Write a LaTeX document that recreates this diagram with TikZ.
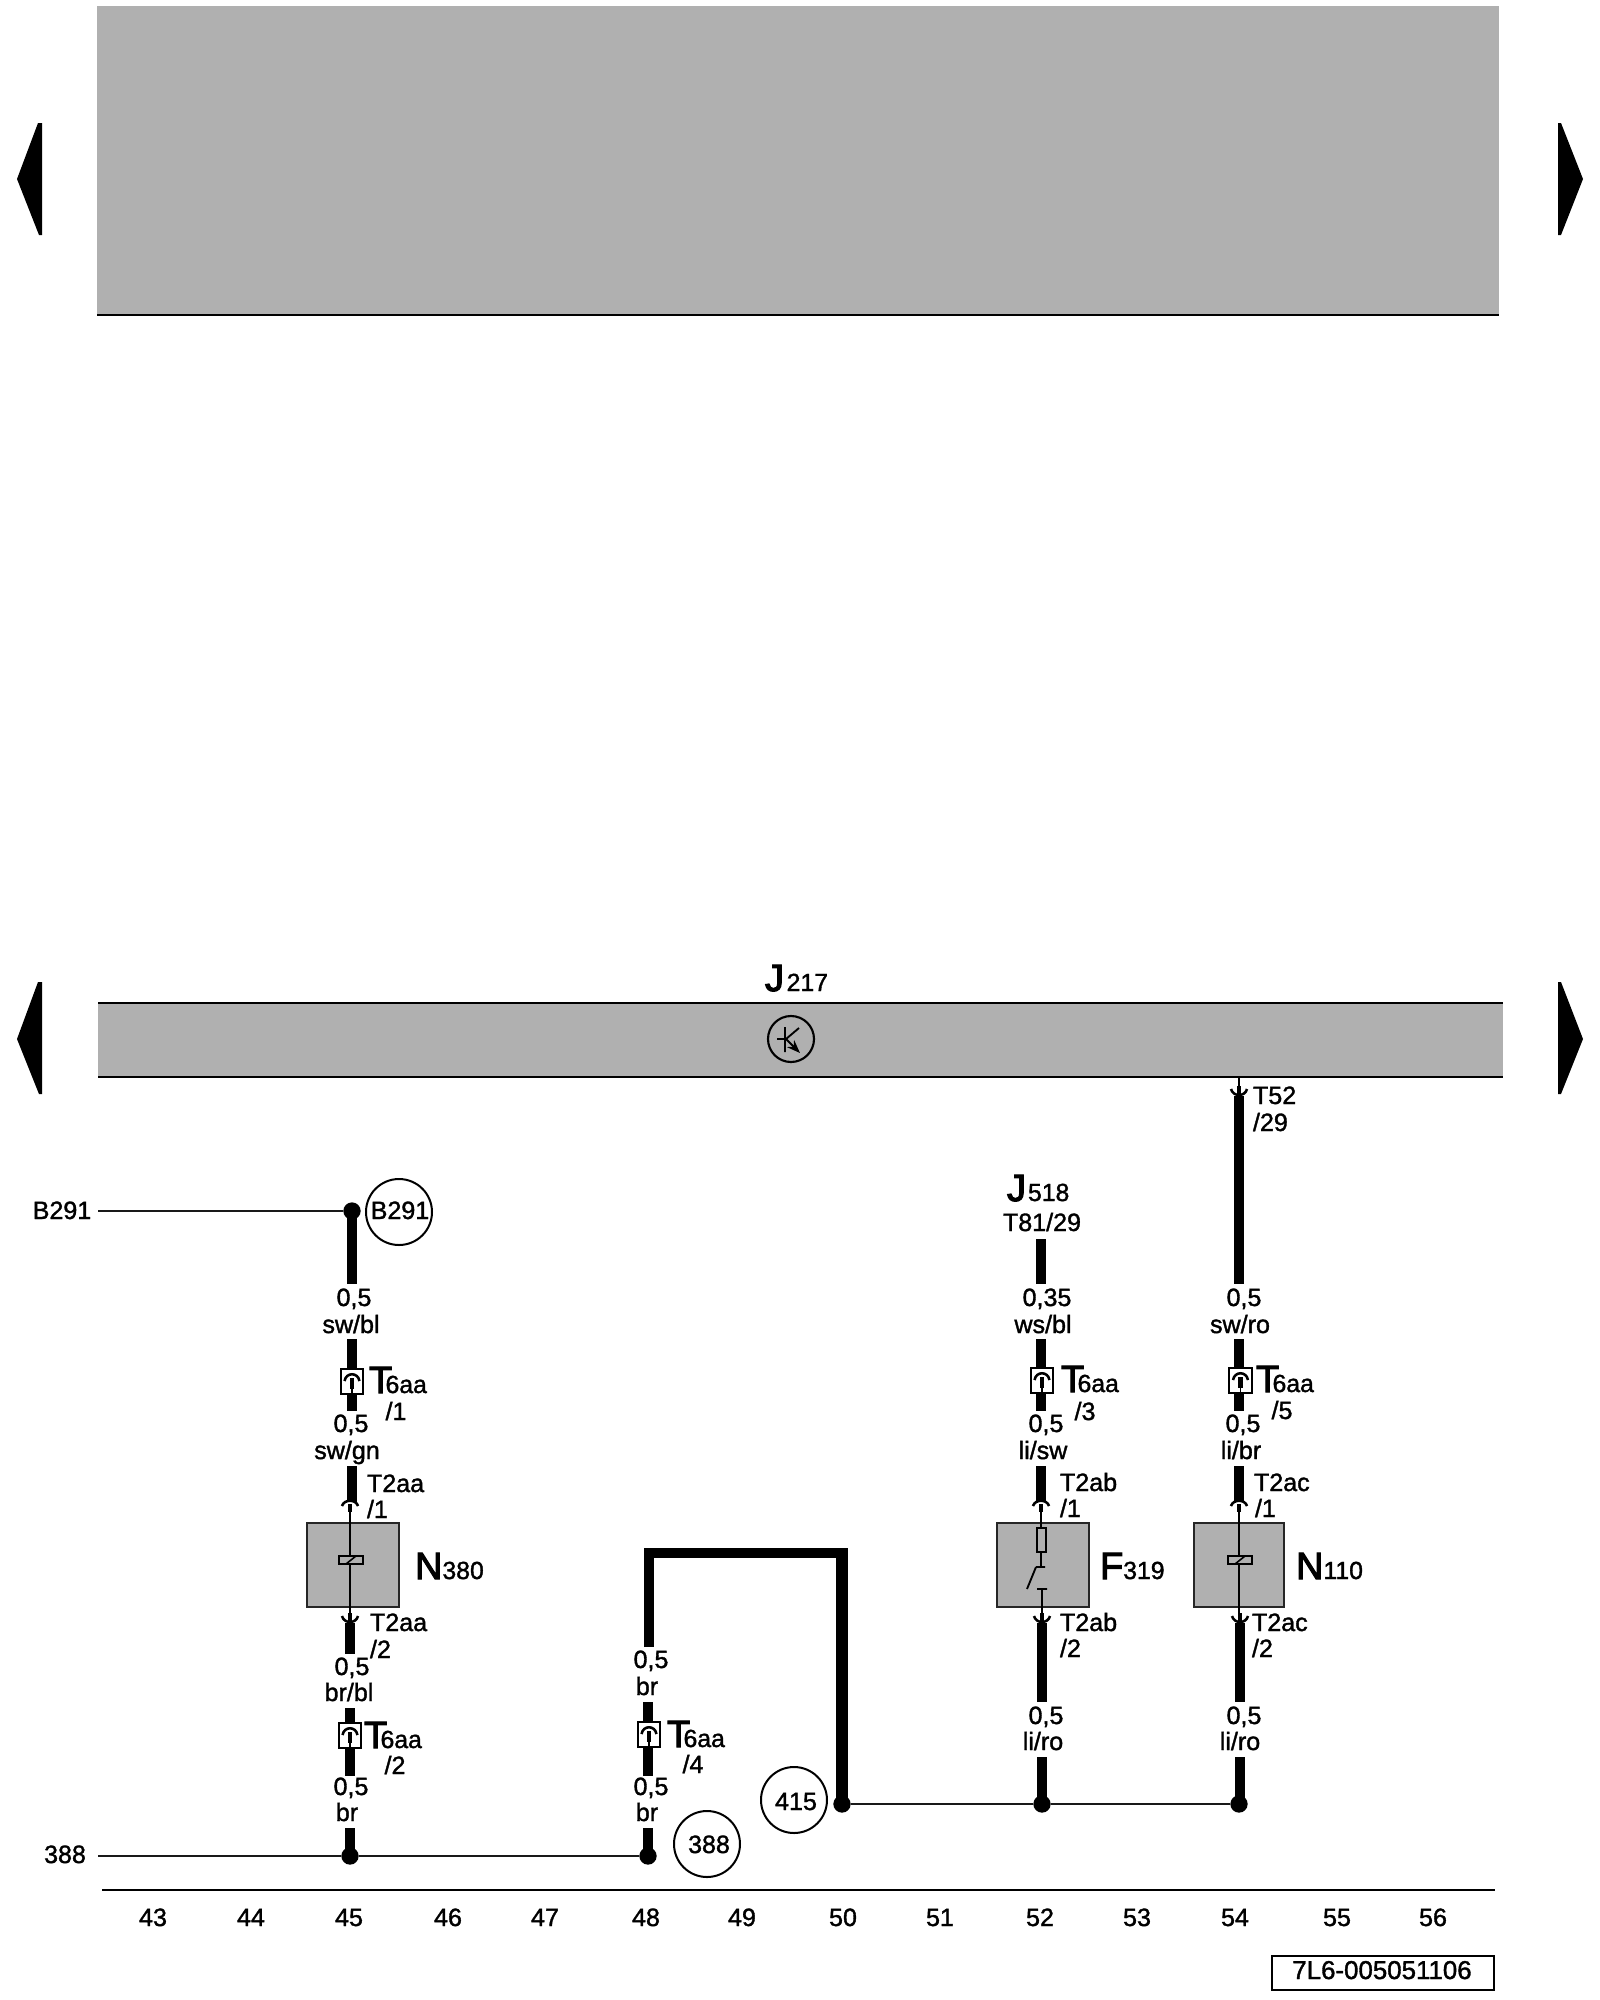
\documentclass[tikz,border=0pt]{standalone}
\usepackage{fontspec}
\setmainfont{Liberation Sans}
\newfontfamily\labf[FakeBold=1.4]{Liberation Sans}
\newfontfamily\bigf[FakeBold=3.0]{Liberation Sans}
\usetikzlibrary{arrows.meta}
\definecolor{bandgray}{HTML}{B0B0B0}
\tikzset{
 px/.style={x=0.75pt,y=-0.75pt},
 wirestyle/.style={line width=8pt,line cap=butt},
 thinwire/.style={line width=1.6pt,black!90},
 fork/.style={line width=1.9pt},
 pin/.style={line width=3.6pt},
 dotnode/.style={circle,fill=black,inner sep=0pt,minimum size=13pt},
 compbox/.style={draw=black!85,fill=bandgray,line width=1.6pt,inner sep=0pt},
 plugbox/.style={draw,fill=white,line width=1.5pt,inner sep=0pt,minimum width=17pt,minimum height=18.5pt},
 circlab/.style={circle,draw,line width=1.5pt,inner sep=0pt,minimum size=49.5pt},
 txt/.style={inner sep=0pt,outer sep=0pt,font=\labf\fontsize{18.8pt}{20pt}\selectfont,anchor=base},
 txtl/.style={txt,anchor=base west},
}
% wire: name, x, y1, y2
\newcommand{\wirerun}[4]{\coordinate (#1a) at (#2,#3);\coordinate (#1b) at (#2,#4);\draw[wirestyle] (#1a) -- (#1b);}
% centred label: name, x, y centre, text
\newcommand{\lab}[4]{\node[txt] (#1) at (#2,#3+8) {#4};}
% left aligned label: name, x, y centre, text
\newcommand{\labl}[4]{\node[txtl] (#1) at (#2,#3+8) {#4};}
% big letter + subscript: name,x,baseline,letter,kern,sub
\newcommand{\biglab}[6]{\node[txtl] (#1) at (#2,#3) {\bigf\fontsize{28.5pt}{30pt}\selectfont #4\hspace{#5}\labf\fontsize{18.6pt}{20pt}\selectfont #6};}
% plug symbol: name, cx, ytop
\newcommand{\plug}[3]{\node[plugbox] (#1) at (#2,#3+12.5) {};
 \draw[fork] (#2-7.5,#3+12) .. controls (#2-6,#3+3) and (#2+6,#3+3) .. (#2+7.5,#3+12);
 \draw[pin] (#2,#3+9) -- (#2,#3+20);
 \draw[line width=1.3pt] (#2,#3+20) -- (#2,#3+25);}
% upper fork (wire comes from above): x,y of arc top
\newcommand{\forkup}[2]{\draw[fork,white,line width=3pt] (#1,#2+5) -- (#1,#2+2);
 \draw[fork] (#1-8,#2+6) .. controls (#1-6,#2-1) and (#1+6,#2-1) .. (#1+8,#2+6);
 \draw[pin] (#1,#2+4) -- (#1,#2+12);}
% lower fork (wire goes below): x,y of pin start
\newcommand{\forkdn}[2]{\draw[pin] (#1,#2) -- (#1,#2+8);
 \draw[fork] (#1-8,#2+3) .. controls (#1-6,#2+11) and (#1+6,#2+11) .. (#1+8,#2+3);}
\newcommand{\relay}[2]{\draw[line width=1.4pt,fill=bandgray] (#1-12,#2-4) rectangle (#1+12,#2+4);
 \draw[line width=1.2pt] (#1-5,#2+4) -- (#1+5,#2-4);}
\begin{document}
\begin{tikzpicture}[px]
\useasboundingbox (0,0) rectangle (1600,2000);
% top band
\fill[bandgray] (97,6) rectangle (1499,315);
\draw[line width=1.6pt] (97,315) -- (1499,315);
% navigation arrows
\fill (38,123) -- (42,123) -- (42,235) -- (39,235) -- (17,179) -- cycle;
\fill (1558,123) -- (1561,123) -- (1583,179) -- (1561,235) -- (1558,235) -- cycle;
\fill (38,982) -- (42,982) -- (42,1094) -- (39,1094) -- (17,1039) -- cycle;
\fill (1558,982) -- (1561,982) -- (1583,1039) -- (1561,1094) -- (1558,1094) -- cycle;
% J217 band
\fill[bandgray] (98,1003) rectangle (1503,1077);
\draw[line width=1.6pt] (98,1003) -- (1503,1003) (98,1077) -- (1503,1077);
\biglab{jtwo}{765}{991}{J}{2pt}{217}
\node[circle,draw,line width=1.6pt,inner sep=0pt,minimum size=34.5pt] (trans) at (791,1039) {};
\draw[line width=1.4pt] (777,1039) -- (785,1039) (785,1027) -- (785,1052) (786,1039) -- (799,1028);
\draw[line width=1.4pt,-{Stealth[length=10pt,width=7.5pt]}] (786,1039) -- (800,1053);
% horizontal lines
\coordinate (bleft) at (98,1211);
\coordinate (aleft) at (98,1856);
\node[dotnode] (d45t) at (352,1211) {};
\node[dotnode] (d45b) at (350,1856) {};
\node[dotnode] (d48) at (648,1856) {};
\node[dotnode] (d50) at (842,1804) {};
\node[dotnode] (d52) at (1042,1804) {};
\node[dotnode] (d54) at (1239,1804) {};
\draw[thinwire] (bleft) -- (d45t);
\draw[thinwire] (aleft) -- (d45b) -- (d48);
\draw[thinwire] (d50) -- (d52) -- (d54);
\lab{lb}{62}{1211}{B291}
\lab{la}{65}{1855}{388}
\node[circlab] (cb) at (399,1212) {};
\node[txt] (cbt) at (400,1219) {B291};
\node[circlab] (c388) at (707,1844) {};
\node[txt] (c388t) at (709,1853) {388};
\node[circlab] (c415) at (794,1800) {};
\node[txt] (c415t) at (796,1810) {415};
% column 45
\wirerun{a1}{352}{1211}{1284}
\lab{a1l}{354}{1298}{0,5}
\lab{a1m}{351}{1325}{sw/bl}
\wirerun{a2}{352}{1339}{1411}
\plug{pa}{352}{1369}
\biglab{ta}{369}{1393}{T}{-5pt}{6aa}
\lab{ta2}{396}{1412}{/1}
\lab{a3l}{351}{1424}{0,5}
\lab{a3m}{347}{1451}{sw/gn}
\wirerun{a3}{352}{1466}{1502}
\forkup{350}{1500}
\labl{t2a}{367}{1484}{T2aa}
\labl{t2b}{367}{1510}{/1}
\node[compbox,minimum width=69pt,minimum height=63pt] (n380) at (353,1565) {};
\draw[line width=1.4pt] (350,1510) -- (350,1613);
\relay{351}{1560}
\biglab{nt}{415}{1579}{N}{0pt}{380}
\forkdn{350}{1613}
\wirerun{a4}{350}{1623}{1654}
\labl{t2c}{370}{1623}{T2aa}
\labl{t2d}{370}{1650}{/2}
\lab{a5l}{352}{1667}{0,5}
\lab{a5m}{349}{1693}{br/bl}
\wirerun{a5}{350}{1708}{1776}
\plug{pb}{350}{1723}
\biglab{tb}{364}{1748}{T}{-5pt}{6aa}
\lab{tb2}{395}{1766}{/2}
\lab{a6l}{351}{1787}{0,5}
\lab{a6m}{347}{1813}{br}
\wirerun{a6}{350}{1828}{1856}
% column 48/50
\coordinate (thA) at (649,1647);
\coordinate (thB) at (649,1553);
\coordinate (thC) at (848,1553);
\coordinate (thD) at (842,1548);
\coordinate (thE) at (842,1804);
\draw[line width=7.5pt,line join=miter] (thA) -- (thB) -- (thC);
\draw[line width=9.2pt] (thD) -- (thE);
\lab{b1l}{651}{1660}{0,5}
\lab{b1m}{647}{1687}{br}
\wirerun{b2}{648}{1702}{1776}
\plug{pc}{649}{1722}
\biglab{tc}{667}{1747}{T}{-5pt}{6aa}
\lab{tc2}{693}{1765}{/4}
\lab{b3l}{651}{1787}{0,5}
\lab{b3m}{647}{1813}{br}
\wirerun{b3}{648}{1828}{1856}
% column 52
\biglab{jt}{1007}{1201}{J}{1.5pt}{518}
\lab{jt2}{1042}{1223}{T81/29}
\wirerun{c1}{1041}{1239}{1284}
\lab{c1l}{1047}{1298}{0,35}
\lab{c1m}{1043}{1325}{ws/bl}
\wirerun{c2}{1041}{1339}{1411}
\plug{pd}{1042}{1368}
\biglab{td}{1061}{1392}{T}{-5pt}{6aa}
\lab{td2}{1085}{1412}{/3}
\lab{c3l}{1046}{1424}{0,5}
\lab{c3m}{1043}{1451}{li/sw}
\wirerun{c3}{1041}{1466}{1502}
\forkup{1041}{1500}
\labl{t3a}{1060}{1483}{T2ab}
\labl{t3b}{1060}{1509}{/1}
\node[compbox,minimum width=69pt,minimum height=63pt] (f319) at (1043,1565) {};
\draw[line width=1.4pt] (1041,1510) -- (1041,1528) (1041,1552) -- (1041,1567) (1036,1567) -- (1045,1567) (1036,1567) -- (1027,1589) (1037,1589) -- (1047,1589) (1042,1589) -- (1042,1613);
\draw[line width=1.3pt] (1037,1528) rectangle (1046,1552);
\biglab{ft}{1100}{1579}{F}{0pt}{319}
\forkdn{1042}{1613}
\wirerun{c4}{1042}{1623}{1702}
\labl{t3c}{1060}{1623}{T2ab}
\labl{t3d}{1060}{1649}{/2}
\lab{c5l}{1046}{1716}{0,5}
\lab{c5m}{1043}{1742}{li/ro}
\wirerun{c5}{1042}{1757}{1804}
% column 54
\coordinate (e0a) at (1239,1077);\coordinate (e0b) at (1239,1094);
\draw[line width=1.3pt] (e0a) -- (e0b);
\forkdn{1239}{1086}
\wirerun{e1}{1239}{1096}{1284}
\labl{t4a}{1253}{1096}{T52}
\labl{t4b}{1253}{1123}{/29}
\lab{e1l}{1244}{1298}{0,5}
\lab{e1m}{1240}{1325}{sw/ro}
\wirerun{e2}{1239}{1339}{1411}
\plug{pe}{1240.5}{1368}
\biglab{te}{1256}{1392}{T}{-5pt}{6aa}
\lab{te2}{1282}{1411}{/5}
\lab{e3l}{1243}{1424}{0,5}
\lab{e3m}{1241}{1451}{li/br}
\wirerun{e3}{1239}{1466}{1502}
\forkup{1239}{1500}
\labl{t5a}{1254}{1483}{T2ac}
\labl{t5b}{1255}{1509}{/1}
\node[compbox,minimum width=67.5pt,minimum height=63pt] (n110) at (1239,1565) {};
\draw[line width=1.4pt] (1239,1510) -- (1239,1613);
\relay{1240}{1560}
\biglab{nu}{1296}{1579}{N}{0pt}{110}
\forkdn{1240}{1613}
\wirerun{e4}{1240}{1623}{1702}
\labl{t5c}{1252}{1623}{T2ac}
\labl{t5d}{1252}{1649}{/2}
\lab{e5l}{1244}{1716}{0,5}
\lab{e5m}{1240}{1742}{li/ro}
\wirerun{e5}{1240}{1757}{1804}
% baseline and numbering
\coordinate (rl) at (102,1890);\coordinate (rr) at (1495,1890);
\draw[line width=1.6pt] (rl) -- (rr);
\lab{n43}{153}{1918}{43}
\lab{n44}{251}{1918}{44}
\lab{n45}{349}{1918}{45}
\lab{n46}{448}{1918}{46}
\lab{n47}{545}{1918}{47}
\lab{n48}{646}{1918}{48}
\lab{n49}{742}{1918}{49}
\lab{n50}{843}{1918}{50}
\lab{n51}{940}{1918}{51}
\lab{n52}{1040}{1918}{52}
\lab{n53}{1137}{1918}{53}
\lab{n54}{1235}{1918}{54}
\lab{n55}{1337}{1918}{55}
\lab{n56}{1433}{1918}{56}
\node[draw,line width=1.6pt,inner sep=0pt,minimum width=166.5pt,minimum height=25.5pt] (ref) at (1383,1973) {};
\node[txt,font=\labf\fontsize{19.4pt}{20pt}\selectfont] (reft) at (1382,1979) {7L6-005051106};
\end{tikzpicture}
\end{document}
